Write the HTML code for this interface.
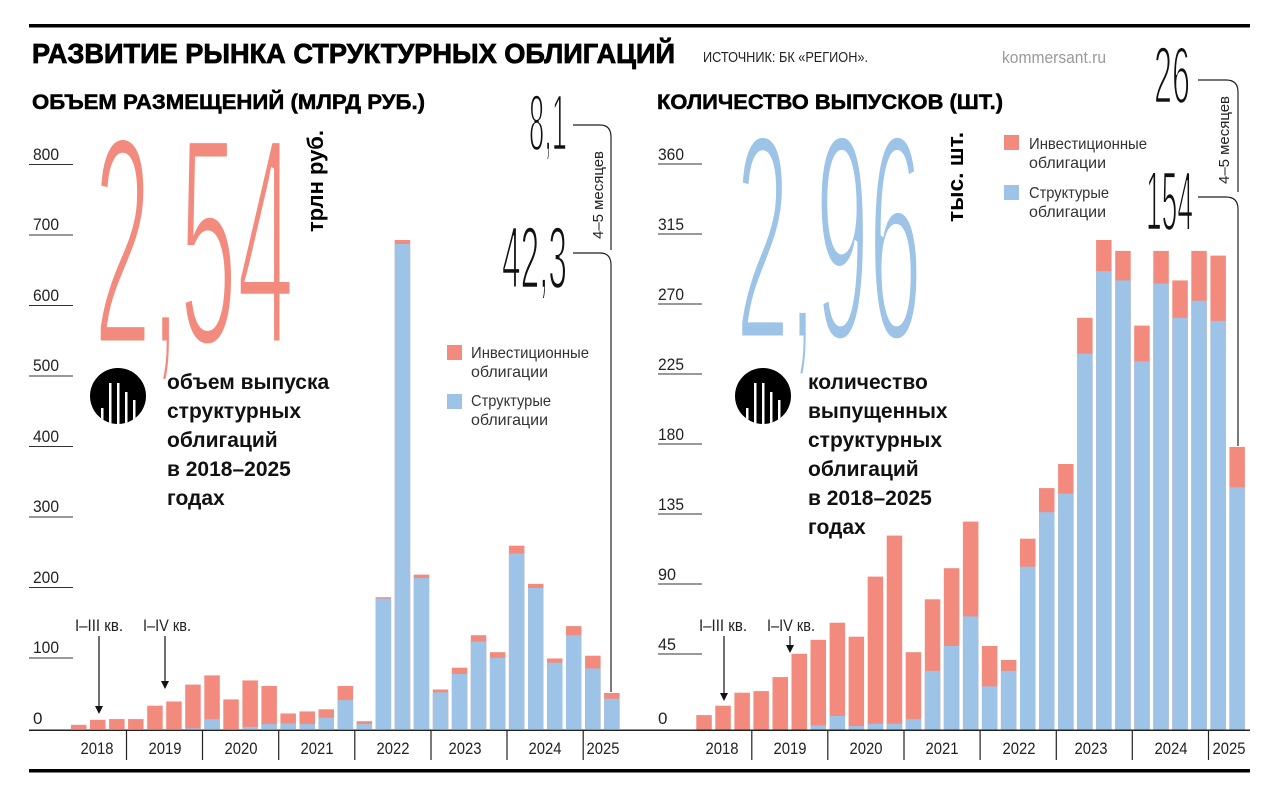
<!DOCTYPE html>
<html><head><meta charset="utf-8"><style>
html,body{margin:0;padding:0;background:#fff;}
svg{display:block;}
text{font-family:"Liberation Sans Narrow","Liberation Sans",sans-serif;}
.b{font-weight:bold;font-family:"Liberation Sans",sans-serif;}
.t{font-size:17px;fill:#222;}
.lg{font-size:16px;fill:#333;}
</style></head><body>
<svg width="1280" height="791" viewBox="0 0 1280 791" xmlns="http://www.w3.org/2000/svg">
<rect width="1280" height="791" fill="#fff"/>
<rect x="29" y="24" width="1221" height="3.5" fill="#000"/>
<rect x="29" y="769" width="1221" height="3.5" fill="#000"/>

<text x="32" y="63" class="b" font-size="28" textLength="643" lengthAdjust="spacingAndGlyphs" stroke="#000" stroke-width="0.8">РАЗВИТИЕ РЫНКА СТРУКТУРНЫХ ОБЛИГАЦИЙ</text>
<text x="703" y="62" font-size="15" fill="#222" textLength="165" lengthAdjust="spacingAndGlyphs">ИСТОЧНИК: БК «РЕГИОН».</text>
<text x="1002" y="63" font-size="17" fill="#999" textLength="104" lengthAdjust="spacingAndGlyphs">kommersant.ru</text>
<text x="32" y="109" class="b" font-size="21" textLength="393" lengthAdjust="spacingAndGlyphs" stroke="#000" stroke-width="0.5">ОБЪЕМ РАЗМЕЩЕНИЙ (МЛРД РУБ.)</text>
<text x="657" y="109" class="b" font-size="21" textLength="346" lengthAdjust="spacingAndGlyphs" stroke="#000" stroke-width="0.5">КОЛИЧЕСТВО ВЫПУСКОВ (ШТ.)</text>

<!-- big numbers -->
<text x="94" y="345" font-size="300" fill="#F28B7D" stroke="#fff" stroke-width="9" textLength="200" lengthAdjust="spacingAndGlyphs" style="font-family:'Liberation Sans',sans-serif">2,54</text>
<text x="736" y="340" font-size="296" fill="#9DC3E6" stroke="#fff" stroke-width="9" textLength="186" lengthAdjust="spacingAndGlyphs" style="font-family:'Liberation Sans',sans-serif">2,96</text>
<text transform="translate(323,181) rotate(-90)" text-anchor="middle" class="b" font-size="22" textLength="102" lengthAdjust="spacingAndGlyphs">трлн руб.</text>
<text transform="translate(963,177) rotate(-90)" text-anchor="middle" class="b" font-size="22" textLength="90" lengthAdjust="spacingAndGlyphs">тыс. шт.</text>

<!-- icons -->
<defs>
<clipPath id="c1"><circle cx="118" cy="396" r="28"/></clipPath>
<clipPath id="c2"><circle cx="763" cy="396" r="28"/></clipPath>
</defs>
<g>
<circle cx="118" cy="396" r="28" fill="#000"/>
<g clip-path="url(#c1)" fill="#fff"><rect x="101" y="408" width="2.5" height="20"/><rect x="109" y="383" width="2.5" height="45"/><rect x="117" y="383" width="2.5" height="45"/><rect x="125" y="392" width="2.5" height="36"/><rect x="133" y="400" width="2.5" height="28"/></g>
<circle cx="763" cy="396" r="28" fill="#000"/>
<g clip-path="url(#c2)" fill="#fff"><rect x="746" y="408" width="2.5" height="20"/><rect x="754" y="383" width="2.5" height="45"/><rect x="762" y="383" width="2.5" height="45"/><rect x="770" y="392" width="2.5" height="36"/><rect x="778" y="400" width="2.5" height="28"/></g>
</g>
<g class="b" font-size="21" fill="#111">
<text x="167" y="389">объем выпуска</text>
<text x="167" y="418">структурных</text>
<text x="167" y="447">облигаций</text>
<text x="167" y="476">в 2018–2025</text>
<text x="167" y="505">годах</text>
<text x="808" y="389">количество</text>
<text x="808" y="418">выпущенных</text>
<text x="808" y="447">структурных</text>
<text x="808" y="476">облигаций</text>
<text x="808" y="505">в 2018–2025</text>
<text x="808" y="534">годах</text>
</g>

<!-- legends -->
<rect x="447" y="345" width="15" height="15" fill="#F28B7D"/>
<rect x="447" y="394" width="15" height="15" fill="#9DC3E6"/>
<text x="471" y="358" class="lg" textLength="118" lengthAdjust="spacingAndGlyphs">Инвестиционные</text>
<text x="471" y="377" class="lg">облигации</text>
<text x="471" y="406" class="lg" textLength="80" lengthAdjust="spacingAndGlyphs">Структурые</text>
<text x="471" y="425" class="lg">облигации</text>
<rect x="1004" y="135" width="15" height="15" fill="#F28B7D"/>
<rect x="1004" y="185" width="15" height="15" fill="#9DC3E6"/>
<text x="1029" y="149" class="lg" textLength="118" lengthAdjust="spacingAndGlyphs">Инвестиционные</text>
<text x="1029" y="168" class="lg">облигации</text>
<text x="1029" y="198" class="lg" textLength="80" lengthAdjust="spacingAndGlyphs">Структурые</text>
<text x="1029" y="217" class="lg">облигации</text>

<!-- tick labels -->
<g class="t">
<text x="33" y="160" textLength="26" lengthAdjust="spacingAndGlyphs">800</text><text x="33" y="230" textLength="26" lengthAdjust="spacingAndGlyphs">700</text><text x="33" y="301" textLength="26" lengthAdjust="spacingAndGlyphs">600</text><text x="33" y="371" textLength="26" lengthAdjust="spacingAndGlyphs">500</text><text x="33" y="442" textLength="26" lengthAdjust="spacingAndGlyphs">400</text><text x="33" y="512" textLength="26" lengthAdjust="spacingAndGlyphs">300</text><text x="33" y="583" textLength="26" lengthAdjust="spacingAndGlyphs">200</text><text x="33" y="653" textLength="26" lengthAdjust="spacingAndGlyphs">100</text><text x="33" y="724">0</text>
<text x="658" y="160" textLength="26" lengthAdjust="spacingAndGlyphs">360</text><text x="658" y="230" textLength="26" lengthAdjust="spacingAndGlyphs">315</text><text x="658" y="300" textLength="26" lengthAdjust="spacingAndGlyphs">270</text><text x="658" y="370" textLength="26" lengthAdjust="spacingAndGlyphs">225</text><text x="658" y="440" textLength="26" lengthAdjust="spacingAndGlyphs">180</text><text x="658" y="510" textLength="26" lengthAdjust="spacingAndGlyphs">135</text><text x="658" y="580" textLength="18" lengthAdjust="spacingAndGlyphs">90</text><text x="658" y="650" textLength="18" lengthAdjust="spacingAndGlyphs">45</text><text x="658" y="724">0</text>
</g>
<g stroke="#333" stroke-width="1">
<path d="M29,164.5H73M29,235H73M29,305.5H73M29,376H73M29,446.5H73M29,517H73M29,587.5H73M29,658H73"/>
<path d="M658,164H702M658,234H702M658,304H702M658,374H702M658,444H702M658,514H702M658,584H702M658,654H702"/>
</g>

<!-- left bars -->
<g>
<g fill="#F28B7D">
<rect x="71.0" y="724.8" width="15.5" height="4.2"/>
<rect x="90.0" y="719.8" width="15.5" height="9.2"/>
<rect x="109.1" y="719.1" width="15.5" height="9.9"/>
<rect x="128.1" y="719.1" width="15.5" height="9.9"/>
<rect x="147.2" y="705.7" width="15.5" height="23.3"/>
<rect x="166.2" y="701.5" width="15.5" height="27.5"/>
<rect x="185.2" y="684.6" width="15.5" height="44.4"/>
<rect x="204.3" y="675.4" width="15.5" height="53.6"/>
<rect x="223.3" y="699.4" width="15.5" height="29.6"/>
<rect x="242.4" y="680.4" width="15.5" height="48.6"/>
<rect x="261.4" y="686" width="15.5" height="43"/>
<rect x="280.4" y="713.5" width="15.5" height="15.5"/>
<rect x="299.5" y="711.4" width="15.5" height="17.6"/>
<rect x="318.5" y="709.3" width="15.5" height="19.7"/>
<rect x="337.6" y="686" width="15.5" height="43"/>
<rect x="356.6" y="721.2" width="15.5" height="7.8"/>
<rect x="375.6" y="597.2" width="15.5" height="131.8"/>
<rect x="394.7" y="240" width="15.5" height="489"/>
<rect x="413.7" y="574.6" width="15.5" height="154.4"/>
<rect x="432.8" y="689.5" width="15.5" height="39.5"/>
<rect x="451.8" y="667.7" width="15.5" height="61.3"/>
<rect x="470.8" y="635.2" width="15.5" height="93.8"/>
<rect x="489.9" y="652.2" width="15.5" height="76.8"/>
<rect x="508.9" y="545.7" width="15.5" height="183.3"/>
<rect x="528.0" y="583.8" width="15.5" height="145.2"/>
<rect x="547.0" y="658.5" width="15.5" height="70.5"/>
<rect x="566.0" y="626.1" width="15.5" height="102.9"/>
<rect x="585.1" y="655.7" width="15.5" height="73.3"/>
<rect x="604.1" y="693" width="15.5" height="36"/>
</g>
<g fill="#9DC3E6">
<rect x="185.2" y="728.3" width="15.5" height="0.7"/>
<rect x="204.3" y="719.1" width="15.5" height="9.9"/>
<rect x="242.4" y="726.9" width="15.5" height="2.1"/>
<rect x="261.4" y="724.1" width="15.5" height="4.9"/>
<rect x="280.4" y="723.4" width="15.5" height="5.6"/>
<rect x="299.5" y="724.1" width="15.5" height="4.9"/>
<rect x="318.5" y="717.7" width="15.5" height="11.3"/>
<rect x="337.6" y="700.1" width="15.5" height="28.9"/>
<rect x="356.6" y="724.1" width="15.5" height="4.9"/>
<rect x="375.6" y="598.6" width="15.5" height="130.4"/>
<rect x="394.7" y="244" width="15.5" height="485"/>
<rect x="413.7" y="578.1" width="15.5" height="150.9"/>
<rect x="432.8" y="692.3" width="15.5" height="36.7"/>
<rect x="451.8" y="674" width="15.5" height="55"/>
<rect x="470.8" y="641.6" width="15.5" height="87.4"/>
<rect x="489.9" y="657.8" width="15.5" height="71.2"/>
<rect x="508.9" y="553.5" width="15.5" height="175.5"/>
<rect x="528.0" y="588" width="15.5" height="141"/>
<rect x="547.0" y="662.7" width="15.5" height="66.3"/>
<rect x="566.0" y="635.2" width="15.5" height="93.8"/>
<rect x="585.1" y="668.4" width="15.5" height="60.6"/>
<rect x="604.1" y="698.7" width="15.5" height="30.3"/>
</g>
</g>

<!-- right bars -->
<g transform="translate(625.3,0)">
<g fill="#F28B7D">
<rect x="71.0" y="715.1" width="15.5" height="14.9"/>
<rect x="90.0" y="705.7" width="15.5" height="24.3"/>
<rect x="109.1" y="692.7" width="15.5" height="37.3"/>
<rect x="128.1" y="691.1" width="15.5" height="38.9"/>
<rect x="147.2" y="677.1" width="15.5" height="52.9"/>
<rect x="166.2" y="653.8" width="15.5" height="76.2"/>
<rect x="185.2" y="639.8" width="15.5" height="90.2"/>
<rect x="204.3" y="622.7" width="15.5" height="107.3"/>
<rect x="223.3" y="636.7" width="15.5" height="93.3"/>
<rect x="242.4" y="576.6" width="15.5" height="153.4"/>
<rect x="261.4" y="535.6" width="15.5" height="194.4"/>
<rect x="280.4" y="652.2" width="15.5" height="77.8"/>
<rect x="299.5" y="599.3" width="15.5" height="130.7"/>
<rect x="318.5" y="568.2" width="15.5" height="161.8"/>
<rect x="337.6" y="521.6" width="15.5" height="208.4"/>
<rect x="356.6" y="646" width="15.5" height="84"/>
<rect x="375.6" y="660" width="15.5" height="70"/>
<rect x="394.7" y="538.7" width="15.5" height="191.3"/>
<rect x="413.7" y="488.1" width="15.5" height="241.9"/>
<rect x="432.8" y="464" width="15.5" height="266"/>
<rect x="451.8" y="317.8" width="15.5" height="412.2"/>
<rect x="470.8" y="240" width="15.5" height="490"/>
<rect x="489.9" y="250.9" width="15.5" height="479.1"/>
<rect x="508.9" y="325.6" width="15.5" height="404.4"/>
<rect x="528.0" y="250.9" width="15.5" height="479.1"/>
<rect x="547.0" y="280.4" width="15.5" height="449.6"/>
<rect x="566.0" y="250.9" width="15.5" height="479.1"/>
<rect x="585.1" y="255.6" width="15.5" height="474.4"/>
<rect x="604.1" y="446.9" width="15.5" height="283.1"/>
</g>
<g fill="#9DC3E6">
<rect x="185.2" y="725.3" width="15.5" height="4.7"/>
<rect x="204.3" y="716" width="15.5" height="14"/>
<rect x="223.3" y="726.1" width="15.5" height="3.9"/>
<rect x="242.4" y="723.8" width="15.5" height="6.2"/>
<rect x="261.4" y="723.8" width="15.5" height="6.2"/>
<rect x="280.4" y="719.1" width="15.5" height="10.9"/>
<rect x="299.5" y="670.9" width="15.5" height="59.1"/>
<rect x="318.5" y="646" width="15.5" height="84"/>
<rect x="337.6" y="616.4" width="15.5" height="113.6"/>
<rect x="356.6" y="686.4" width="15.5" height="43.6"/>
<rect x="375.6" y="670.9" width="15.5" height="59.1"/>
<rect x="394.7" y="566.7" width="15.5" height="163.3"/>
<rect x="413.7" y="512.2" width="15.5" height="217.8"/>
<rect x="432.8" y="493.6" width="15.5" height="236.4"/>
<rect x="451.8" y="353.6" width="15.5" height="376.4"/>
<rect x="470.8" y="271.1" width="15.5" height="458.9"/>
<rect x="489.9" y="280.4" width="15.5" height="449.6"/>
<rect x="508.9" y="361.3" width="15.5" height="368.7"/>
<rect x="528.0" y="283.6" width="15.5" height="446.4"/>
<rect x="547.0" y="317.8" width="15.5" height="412.2"/>
<rect x="566.0" y="300.7" width="15.5" height="429.3"/>
<rect x="585.1" y="320.9" width="15.5" height="409.1"/>
<rect x="604.1" y="487.3" width="15.5" height="242.7"/>
</g>
</g>

<!-- axes -->
<rect x="29" y="729.5" width="1221" height="1.5" fill="#222"/>
<g stroke="#222" stroke-width="1.2">
<path d="M126.5,730V760M202.5,730V760M278.7,730V760M354.8,730V760M431,730V760M507,730V760M583.2,730V760"/>
<path d="M751.8,730V760M827.8,730V760M904,730V760M980.1,730V760M1056.3,730V760M1132.3,730V760M1208.5,730V760"/>
</g>
<g class="t" text-anchor="middle">
<text x="97" y="754" textLength="33" lengthAdjust="spacingAndGlyphs">2018</text><text x="165" y="754" textLength="33" lengthAdjust="spacingAndGlyphs">2019</text><text x="241" y="754" textLength="33" lengthAdjust="spacingAndGlyphs">2020</text><text x="317" y="754" textLength="33" lengthAdjust="spacingAndGlyphs">2021</text><text x="393" y="754" textLength="33" lengthAdjust="spacingAndGlyphs">2022</text><text x="465" y="754" textLength="33" lengthAdjust="spacingAndGlyphs">2023</text><text x="545" y="754" textLength="33" lengthAdjust="spacingAndGlyphs">2024</text><text x="603" y="754" textLength="33" lengthAdjust="spacingAndGlyphs">2025</text>
<text x="722" y="754" textLength="33" lengthAdjust="spacingAndGlyphs">2018</text><text x="790" y="754" textLength="33" lengthAdjust="spacingAndGlyphs">2019</text><text x="866" y="754" textLength="33" lengthAdjust="spacingAndGlyphs">2020</text><text x="942" y="754" textLength="33" lengthAdjust="spacingAndGlyphs">2021</text><text x="1019" y="754" textLength="33" lengthAdjust="spacingAndGlyphs">2022</text><text x="1091" y="754" textLength="33" lengthAdjust="spacingAndGlyphs">2023</text><text x="1171" y="754" textLength="33" lengthAdjust="spacingAndGlyphs">2024</text><text x="1229" y="754" textLength="33" lengthAdjust="spacingAndGlyphs">2025</text>
</g>

<!-- quarter annotations -->
<g class="t" font-size="16">
<text x="75" y="631" textLength="48" lengthAdjust="spacingAndGlyphs">I–III кв.</text><text x="143" y="631" textLength="48" lengthAdjust="spacingAndGlyphs">I–IV кв.</text>
<text x="699" y="631" textLength="48" lengthAdjust="spacingAndGlyphs">I–III кв.</text><text x="767" y="631" textLength="48" lengthAdjust="spacingAndGlyphs">I–IV кв.</text>
</g>
<g stroke="#111" stroke-width="1.2">
<path d="M99,636V708M165,636V683M724,636V695M790,636V647"/>
</g>
<g fill="#111">
<path d="M95,706L103,706L99,714Z"/><path d="M161,681L169,681L165,689Z"/>
<path d="M720,693L728,693L724,701Z"/><path d="M786,645L794,645L790,653Z"/>
</g>

<!-- callouts -->
<text x="529" y="150" font-size="80" fill="#111" stroke="#fff" stroke-width="2.5" textLength="38" lengthAdjust="spacingAndGlyphs" style="font-family:'Liberation Sans',sans-serif">8,1</text>
<text x="502" y="288" font-size="88" fill="#111" stroke="#fff" stroke-width="2.5" textLength="65" lengthAdjust="spacingAndGlyphs" style="font-family:'Liberation Sans',sans-serif">42,3</text>
<text x="1154" y="103" font-size="81" fill="#111" stroke="#fff" stroke-width="2.5" textLength="36" lengthAdjust="spacingAndGlyphs" style="font-family:'Liberation Sans',sans-serif">26</text>
<text x="1146" y="230" font-size="84" fill="#111" stroke="#fff" stroke-width="2.5" textLength="47" lengthAdjust="spacingAndGlyphs" style="font-family:'Liberation Sans',sans-serif">154</text>
<g fill="none" stroke="#222" stroke-width="1.2">
<path d="M573,125H600Q611,125 611,137V250"/>
<path d="M573,253H600Q611,253 611,265V692"/>
<path d="M1198,80H1226Q1238,80 1238,92V192"/>
<path d="M1198,197H1226Q1238,197 1238,209V446"/>
</g>
<text transform="translate(603,195) rotate(-90)" text-anchor="middle" font-size="15" fill="#222" textLength="88" lengthAdjust="spacingAndGlyphs">4–5 месяцев</text>
<text transform="translate(1229,140) rotate(-90)" text-anchor="middle" font-size="15" fill="#222" textLength="88" lengthAdjust="spacingAndGlyphs">4–5 месяцев</text>
</svg>
</body></html>
